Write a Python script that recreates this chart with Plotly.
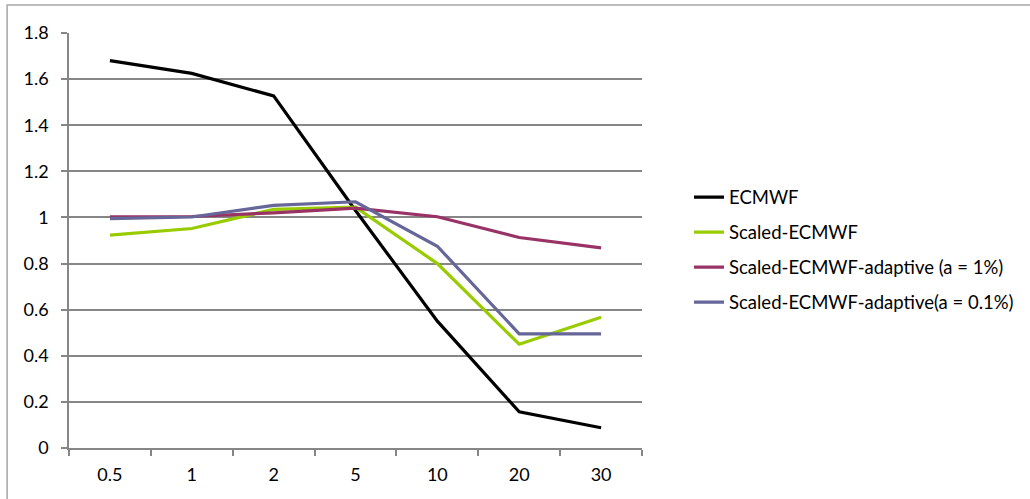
import plotly.graph_objects as go

categories = ["0.5", "1", "2", "5", "10", "20", "30"]
ecmwf = [1.68, 1.625, 1.527, 1.03, 0.55, 0.157, 0.088]
scaled = [0.923, 0.952, 1.035, 1.045, 0.80, 0.45, 0.567]
adaptive_1 = [1.003, 1.004, 1.02, 1.04, 1.003, 0.913, 0.868]
adaptive_01 = [0.995, 1.002, 1.052, 1.068, 0.875, 0.495, 0.495]

series = [
    ("ECMWF", ecmwf, "#000000"),
    ("Scaled-ECMWF", scaled, "#99CC00"),
    ("Scaled-ECMWF-adaptive (a = 1%)", adaptive_1, "#993366"),
    ("Scaled-ECMWF-adaptive(a = 0.1%)", adaptive_01, "#666699"),
]

fig = go.Figure()
for i, (name, vals, col) in enumerate(series):
    fig.add_trace(go.Scatter(x=categories, y=vals, name=name, mode="lines",
                             line=dict(color=col, width=3.2), legendgroup=f"g{i}"))

L, R, T, B = 69, 387, 33, 51
W, H = 1030, 499
pw, ph = W - L - R, H - T - B

fig.update_layout(
    width=W, height=H,
    margin=dict(l=L, r=R, t=T, b=B, pad=0),
    paper_bgcolor="white", plot_bgcolor="white",
    font=dict(family="Lato, Open Sans, sans-serif", size=18, color="#000000"),
    showlegend=True,
    legend=dict(x=(689 - L) / pw, xanchor="left", y=(448 - 250) / ph, yanchor="middle",
                font=dict(size=18.5), tracegroupgap=8, traceorder="grouped",
                bgcolor="rgba(0,0,0,0)"),
    xaxis=dict(type="category", tickson="boundaries", ticks="outside", ticklen=6,
               tickcolor="#868686", tickwidth=1.5, showline=True, linecolor="#868686",
               linewidth=1.5, showgrid=False, ticklabelstandoff=10, zeroline=False,
               range=[-0.5, 6.5], fixedrange=True),
    yaxis=dict(range=[0, 1.8], dtick=0.2, tick0=0, ticks="outside", ticklen=6,
               tickcolor="#868686", tickwidth=1.5, showline=True, linecolor="#868686",
               linewidth=1.5, showgrid=True, gridcolor="#868686", gridwidth=1.5,
               zeroline=False, ticklabelstandoff=9, fixedrange=True),
)

# outer chart frame
fig.add_shape(type="rect", xref="paper", yref="paper",
              x0=(7 - L) / pw, x1=(1040 - L) / pw,
              y0=(448 - 510) / ph, y1=(448 - 5) / ph,
              line=dict(color="#A6A6A6", width=1.5), fillcolor="rgba(0,0,0,0)", layer="below")

fig.write_html("out.html", config={"displayModeBar": False},
               post_script="document.body.style.margin='0px';")
